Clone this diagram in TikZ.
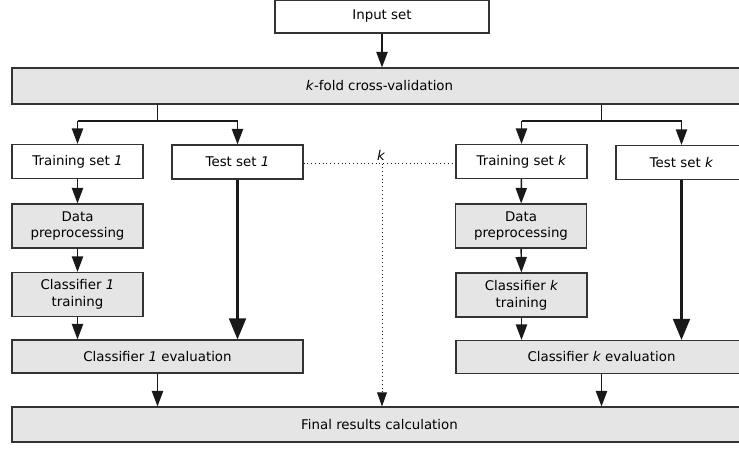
\documentclass[tikz,border=0pt]{standalone}
\usepackage{fontspec}
\setmainfont{DejaVu Sans}
\usetikzlibrary{arrows.meta}

\tikzset{
	whitebox/.style={draw=black!80, line width=0.8pt, fill=white, align=center, inner sep=0pt, font=\fontsize{9.5}{12}\selectfont},
	graybox/.style={whitebox, fill=black!10},
	flow/.style={draw=black!90, line width=1pt, -{Triangle[length=11pt,width=8pt]}},
	bigflow/.style={draw=black!90, line width=1.7pt, -{Triangle[length=15pt,width=12pt]}},
	foldline/.style={draw=black!90, line width=0.7pt, dotted}
}

\begin{document}
\begin{tikzpicture}[x=0.025cm,y=-0.025cm]

		\useasboundingbox (0,0) rectangle (739,449);

		% top of the chain
		\node [whitebox, minimum width=214*0.025cm, minimum height=33*0.025cm] (input) at (382,16.5) {Input set};
		\node [graybox, minimum width=735*0.025cm, minimum height=36*0.025cm] (kfold) at (379.5,86) {\textit{k}-fold cross-validation};

		% fold 1
		\node [whitebox, minimum width=131*0.025cm, minimum height=34*0.025cm] (train1) at (77.5,161.5) {Training set \textit{1}};
		\node [whitebox, minimum width=131*0.025cm, minimum height=34*0.025cm] (test1) at (237.5,162) {Test set \textit{1}};
		\node [graybox, minimum width=131*0.025cm, minimum height=44*0.025cm] (prep1) at (77.5,226) {Data\\preprocessing};
		\node [graybox, minimum width=131*0.025cm, minimum height=44*0.025cm] (clf1) at (77.5,294.5) {Classifier \textit{1}\\training};
		\node [graybox, minimum width=291*0.025cm, minimum height=33*0.025cm] (eval1) at (157.5,356.5) {Classifier \textit{1} evaluation};

		% fold k
		\node [whitebox, minimum width=131*0.025cm, minimum height=34*0.025cm] (traink) at (521.5,161.5) {Training set \textit{k}};
		\node [whitebox, minimum width=131*0.025cm, minimum height=34*0.025cm] (testk) at (681.5,162.5) {Test set \textit{k}};
		\node [graybox, minimum width=131*0.025cm, minimum height=44*0.025cm] (prepk) at (521,226) {Data\\preprocessing};
		\node [graybox, minimum width=131*0.025cm, minimum height=44*0.025cm] (clfk) at (521.5,295) {Classifier \textit{k}\\training};
		\node [graybox, minimum width=291*0.025cm, minimum height=33*0.025cm] (evalk) at (601.5,357) {Classifier \textit{k} evaluation};

		\node [graybox, minimum width=735*0.025cm, minimum height=35*0.025cm] (final) at (379.5,424.5) {Final results calculation};

		\coordinate (split1) at (157.5,121);
		\coordinate (splitk) at (601.5,121);
		\coordinate (fold) at (382,163.5);

		\draw [flow] (input.south -| fold) -- (kfold.north -| fold);
		\draw [line width=1pt, draw=black!90] (kfold.south -| split1) -- (split1) (kfold.south -| splitk) -- (splitk);
		\draw [line width=1pt, draw=black!90] (split1 -| train1) -- (split1 -| test1) (splitk -| traink) -- (splitk -| testk);
		\foreach \setnode/\forknode in {train1/split1, test1/split1, traink/splitk, testk/splitk}
			\draw [flow] (\forknode -| \setnode) -- (\setnode.north);

		\draw [flow] (train1) -- (prep1);
		\draw [flow] (prep1) -- (clf1);
		\draw [flow] (clf1) -- (clf1 |- eval1.north);
		\draw [bigflow] (test1) -- (test1 |- eval1.north);
		\draw [flow] (eval1) -- (eval1 |- final.north);

		\draw [flow] (traink) -- (prepk);
		\draw [flow] (prepk) -- (clfk);
		\draw [flow] (clfk) -- (clfk |- evalk.north);
		\draw [bigflow] (testk) -- (testk |- evalk.north);
		\draw [flow] (evalk) -- (evalk |- final.north);

		% the k folds
		\draw [foldline] (test1.east |- fold) -- (traink.west |- fold);
		\draw [foldline, -{Triangle[length=10pt,width=7pt]}] (fold) -- (fold |- final.north);
		\node [font=\fontsize{9.5}{12}\selectfont\itshape] (klabel) at (381,155) {k};

\end{tikzpicture}
\end{document}
